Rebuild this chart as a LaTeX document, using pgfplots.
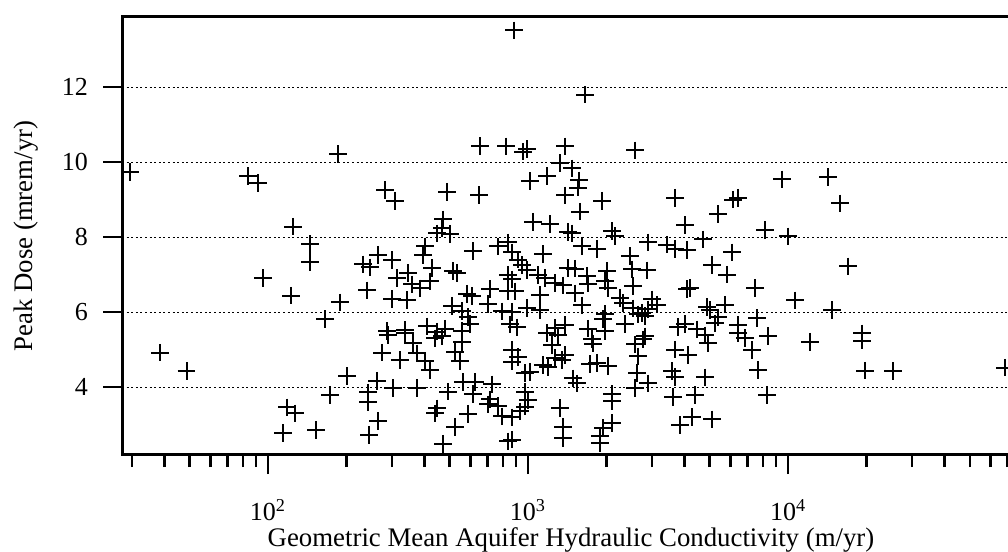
\documentclass[border=0pt]{standalone}
\usepackage{fontspec}
\setmainfont{Liberation Serif}
\usepackage{pgfplots}
\pgfplotsset{compat=1.18}

\pgfplotstableread{
x y
29.4 9.73
83.8 9.63
91.5 9.44
38.4 4.92
48.6 4.43
124.8 8.28
145 7.82
145 7.34
95.7 6.91
122.6 6.44
165.6 5.82
173.2 3.79
118.4 3.46
127 3.30
114.2 2.77
153 2.86
185.9 10.21
281.8 9.26
307.9 8.97
488.2 9.21
647.9 9.12
653.7 10.43
823 10.42
471 8.47
467 8.23
446.7 8.10
501 8.09
614.5 7.63
401.7 7.75
394.7 7.51
265 7.53
300 7.39
232 7.27
246.8 7.19
189.2 6.26
240.4 6.58
313.5 6.91
345.5 7.04
357.9 6.74
384.2 6.63
300 6.35
342.4 6.32
427.3 7.17
419.8 6.82
514.6 7.10
533.2 7.05
582.8 6.49
609 6.43
510 6.17
557.5 6.03
587.6 5.87
598.4 5.68
714.2 6.61
701.8 6.21
766.6 7.75
837.6 7.86
837.6 7.00
837.6 6.55
794.3 6.02
852.6 5.67
286.9 5.50
336.4 5.52
408.9 5.62
446.7 5.48
479.5 5.56
868 7.59
915.2 7.40
948.2 7.26
991.3 7.13
956.8 10.28
991 10.35
1388 10.42
2579 10.31
1328 9.97
1476 9.83
1183 9.63
1018 9.50
1571 9.51
1557 9.32
1388 9.11
1926 8.97
1585 8.68
3677 9.05
9482 9.54
6144 9.00
6424 9.05
5381 8.61
883.6 13.51
1657 11.80
14250 9.60
15850 8.90
1045 8.41
1215 8.35
1425 8.13
1476 8.10
2104 8.16
2161 8.03
4017 8.32
8155 8.19
10000 8.02
4710 7.94
2894 7.86
3424 7.80
3677 7.69
4089 7.66
6089 7.59
1613 7.77
1842 7.69
1142 7.55
2468 7.49
5102 7.25
5827 7.00
1425 7.17
1516 7.16
2012 7.10
2512 7.14
2869 7.11
1093 6.99
1163 6.91
1270 6.77
1363 6.71
1687 6.97
1701 6.76
1978 6.83
2031 6.65
2534 6.69
4089 6.62
4199 6.64
7466 6.64
10640 6.31
868 6.87
891 6.55
1112 6.46
1516 6.50
1613 6.18
2259 6.37
2320 6.24
2534 6.10
2745 5.97
3000 6.34
3134 6.20
2894 6.07
4881 6.13
5724 6.20
868 6.01
991 6.11
1112 6.06
1978 5.95
1943 5.82
2650 5.94
2818 5.89
5240 5.70
5381 5.86
7600 5.84
6424 5.66
907.4 5.59
1270 5.57
1388 5.65
1701 5.56
1978 5.50
2361 5.68
2818 5.35
3776 5.61
4017 5.68
4467 5.54
4795 5.38
6424 5.45
6832 5.31
8376 5.36
17010 7.22
868 5.00
915 4.81
868 4.68
973.8 4.38
1018 4.41
1142 4.59
1194 4.53
1270 4.77
1351 4.72
1388 4.85
1304 5.38
1237 5.12
1183 5.44
1490 4.23
1543 4.10
1763 5.29
1778 5.16
1732 4.62
1842 4.65
2031 4.57
2579 5.14
2769 5.27
2650 4.82
2626 4.37
2579 3.97
2894 4.10
3677 5.00
4125 4.86
3579 4.43
3677 4.27
4795 4.26
7269 4.99
7666 4.46
8305 3.79
2104 3.82
2104 3.63
3611 3.74
4389 3.79
974 3.88
1000 3.66
974 3.48
931.5 3.35
868 3.19
1328 3.44
1363 2.93
1363 2.63
1943 2.91
2104 3.04
1892 2.70
1892 2.51
3842 2.99
4273 3.20
5102 3.14
868 2.60
289.4 5.39
336.4 5.44
361.1 5.17
374.2 4.90
401.7 4.69
419.8 4.45
274.4 4.92
321.8 4.72
438.8 5.30
467 5.35
557.5 5.21
523.9 4.94
547.6 4.70
557.5 5.50
201.2 4.29
262.6 4.17
242.4 3.86
242.4 3.59
302.6 3.98
374.2 3.97
265 3.10
244.6 2.73
492.4 3.88
446.7 3.43
438.8 3.30
523.9 2.94
471 2.49
587.6 3.29
562.3 4.14
625.6 4.14
614.5 3.82
726.9 4.07
714.2 3.67
701.8 3.54
766.6 3.49
794.3 3.22
837.6 2.55
14770 6.06
5012 6.05
4924 5.17
12150 5.21
19260 5.43
19260 5.24
19780 4.44
25340 4.43
68320 4.52
}\dosedata

\begin{document}
\begin{tikzpicture}
\useasboundingbox (-61pt,-48.5pt) rectangle (443pt,227.5pt);
\begin{axis}[
    at={(0pt,0pt)}, anchor=south west,
    scale only axis,
    width=449pt, height=219pt,
    xmode=log,
    xmin=27.45, xmax=78000,
    ymin=2.19, ymax=13.87,
    xtick={100,1000,10000},
    xticklabels={10\textsuperscript{2},10\textsuperscript{3},10\textsuperscript{4}},
    minor xtick={30,40,50,60,70,80,90,200,300,400,500,600,700,800,900,2000,3000,4000,5000,6000,7000,8000,9000,20000,30000,40000,50000,60000,70000},
    ytick={4,6,8,10,12},
    yticklabels={4,6,8,10,12},
    ymajorgrids,
    tick align=outside,
    xtick pos=left, ytick pos=left,
    major tick length=9.5pt, minor tick length=6pt,
    every tick/.style={black, solid, line width=1.3pt},
    axis line style={line width=1.5pt},
    grid style={black, line width=0.6pt, dash pattern=on 1pt off 1.3pt},
    tick label style={font=\fontsize{13}{15}\selectfont},
    xticklabel style={anchor=base, yshift=-23pt},
    yticklabel style={anchor=east, xshift=-4pt},
    label style={font=\fontsize{13.4}{15}\selectfont},
    xlabel={Geometric Mean Aquifer Hydraulic Conductivity (m/yr)},
    ylabel={Peak Dose (mrem/yr)},
    xlabel style={at={(axis description cs:0.5,0)}, anchor=base, yshift=-45.5pt},
    ylabel style={at={(axis description cs:0,0.5)}, anchor=base, yshift=45pt},
]
\addplot[only marks, mark=+, mark size=4.4pt, mark options={line width=1pt}] table[x=x, y=y] {\dosedata};
\end{axis}
\end{tikzpicture}
\end{document}
